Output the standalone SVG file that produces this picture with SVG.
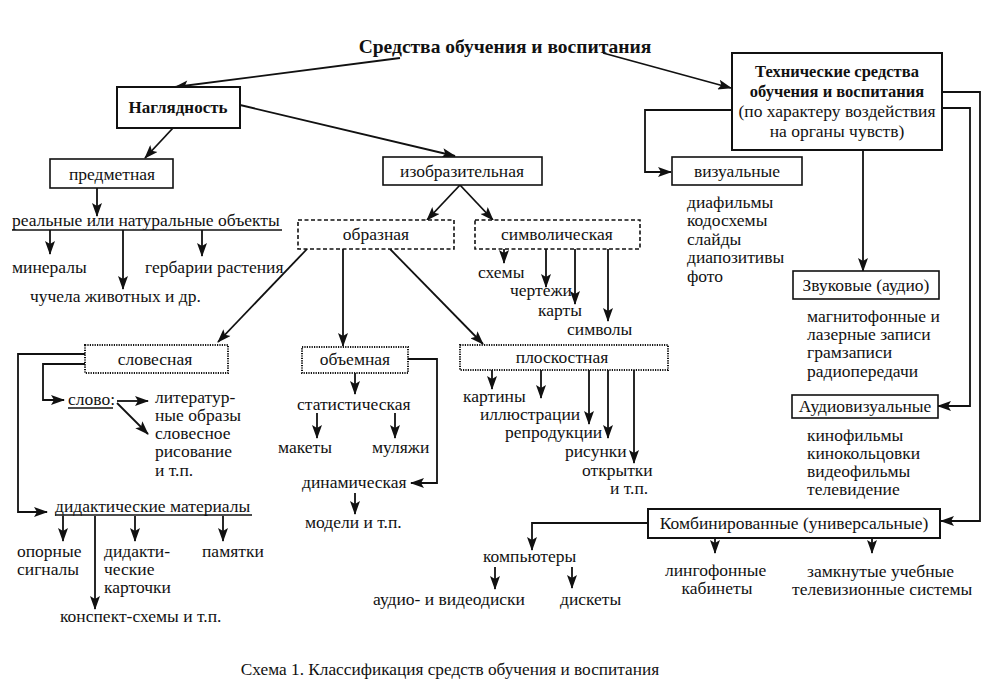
<svg xmlns="http://www.w3.org/2000/svg" width="1008" height="696" viewBox="0 0 1008 696">
<style>
text{font-family:"Liberation Serif","Times New Roman",serif;font-size:17.5px;fill:#111}
.c{text-anchor:middle}
.b{font-weight:bold}
.solid{fill:#fff;stroke:#111;stroke-width:2}
.dash{fill:#fff;stroke:#111;stroke-width:1.6;stroke-dasharray:4 2.5}
.dot{fill:#fff;stroke:#111;stroke-width:2;stroke-dasharray:1.2 1.2}
.ar{fill:none;stroke:#111;stroke-width:1.8;marker-end:url(#ah)}
.ul{stroke:#111;stroke-width:1.3}
</style>
<defs>
<marker id="ah" viewBox="0 0 14 10" refX="13" refY="5" markerWidth="15" markerHeight="10" markerUnits="userSpaceOnUse" orient="auto">
<path d="M0,0 L14,5 L0,10 L3,5 Z" fill="#111"/>
</marker>
</defs>
<rect width="1008" height="696" fill="#fff"/>

<g id="connectors">
<path class="ar" d="M400,58 L175,87"/>
<path class="ar" d="M603,53 L731,88"/>
<path class="ar" d="M173,128 L145,158"/>
<path class="ar" d="M240,105 L455,156"/>
<path class="ar" d="M97,188 L97,216"/>
<path class="ar" d="M50,230 L50,254"/>
<path class="ar" d="M123,230 L123,289"/>
<path class="ar" d="M202,230 L202,256"/>
<path class="ar" d="M460,185 L427,220"/>
<path class="ar" d="M460,185 L493,220"/>
<path class="ar" d="M504,249 L504,263"/>
<path class="ar" d="M546,249 L546,287"/>
<path class="ar" d="M575,249 L575,304"/>
<path class="ar" d="M608,249 L608,321"/>
<path class="ar" d="M307,249 L218,342"/>
<path class="ar" d="M343,249 L343,346"/>
<path class="ar" d="M390,249 L483,344"/>
<path class="ar" d="M85,354 L18,354 L18,512 L47,512"/>
<path class="ar" d="M85,364 L43,364 L43,400 L64,400"/>
<path class="ar" d="M117,401 L148,401"/>
<path class="ar" d="M117,403 L148,434"/>
<path class="ar" d="M63,516 L63,541"/>
<path class="ar" d="M95,516 L95,609"/>
<path class="ar" d="M135,516 L135,541"/>
<path class="ar" d="M223,516 L223,541"/>
<path class="ar" d="M355,373 L355,394"/>
<path class="ar" d="M317,413 L317,438"/>
<path class="ar" d="M395,413 L395,438"/>
<path class="ar" d="M408,359 L437,359 L437,483 L411,483"/>
<path class="ar" d="M355,493 L355,514"/>
<path class="ar" d="M492,370 L492,389"/>
<path class="ar" d="M541,370 L541,398"/>
<path class="ar" d="M589,370 L589,424"/>
<path class="ar" d="M608,370 L608,438"/>
<path class="ar" d="M634,370 L634,463"/>
<path class="ar" d="M732,110 L645,110 L645,172 L671,172"/>
<path class="ar" d="M863,150 L863,271"/>
<path class="ar" d="M942,108 L970,108 L970,406 L938,406"/>
<path class="ar" d="M942,92 L980,92 L980,521 L941,521"/>
<path class="ar" d="M648,523 L532,523 L532,550"/>
<path class="ar" d="M495,567 L495,589"/>
<path class="ar" d="M572,567 L572,588"/>
<path class="ar" d="M715,538 L715,553"/>
<path class="ar" d="M872,538 L872,553"/>
</g>

<g id="title"><text class="c b" x="505" y="53" style="font-size:19.5px">Средства обучения и воспитания</text></g>

<g id="n-naglyadnost"><rect class="solid" x="117" y="87" width="123" height="41"/><text class="c b" x="178" y="113" style="font-size:17px">Наглядность</text></g>
<g id="n-predmetnaya"><rect class="solid" x="50" y="159" width="123" height="29" style="stroke-width:1.6"/><text class="c" x="112" y="180">предметная</text></g>
<g id="n-real">
<text x="12" y="226">реальные или натуральные объекты</text><line class="ul" x1="12" y1="230" x2="282" y2="230"/>
<text x="12" y="273">минералы</text>
<text x="145" y="273">гербарии растения</text>
<text x="30" y="302">чучела животных и др.</text>
</g>
<g id="n-izobr"><rect class="solid" x="383" y="157" width="159" height="28" style="stroke-width:1.6"/><text class="c" x="462" y="177">изобразительная</text></g>
<g id="n-obraznaya"><rect class="dash" x="298" y="220" width="156" height="29"/><text class="c" x="376" y="240">образная</text></g>
<g id="n-simvol"><rect class="dash" x="475" y="220" width="165" height="29"/><text class="c" x="557" y="240">символическая</text>
<text x="478" y="278">схемы</text><text x="510" y="296">чертежи</text><text x="538" y="316">карты</text><text x="567" y="335">символы</text></g>

<g id="n-slovesnaya"><rect class="dot" x="85" y="345" width="143" height="28"/><text class="c" x="155" y="365">словесная</text>
<text x="68" y="405">слово:</text><line class="ul" x1="68" y1="408" x2="113" y2="408"/>
<text x="155" y="403">литератур-</text><text x="155" y="421">ные образы</text><text x="155" y="439">словесное</text><text x="155" y="457">рисование</text><text x="155" y="476">и т.п.</text>
</g>
<g id="n-didakt">
<text x="55" y="512">дидактические материалы</text><line class="ul" x1="55" y1="515" x2="252" y2="515"/>
<text x="17" y="557">опорные</text><text x="17" y="575">сигналы</text>
<text x="104" y="557">дидакти-</text><text x="104" y="575">ческие</text><text x="104" y="593">карточки</text>
<text x="202" y="557">памятки</text>
<text x="60" y="622">конспект-схемы и т.п.</text>
</g>
<g id="n-obemnaya"><rect class="dot" x="302" y="347" width="106" height="26"/><text class="c" x="355" y="365">объемная</text>
<text x="297" y="410">статистическая</text><text x="278" y="453">макеты</text><text x="372" y="453">муляжи</text>
<text x="302" y="488">динамическая</text><text x="305" y="528">модели и т.п.</text></g>
<g id="n-ploskostnaya"><rect class="dot" x="460" y="345" width="208" height="25"/><text class="c" x="562" y="363">плоскостная</text>
<text x="463" y="402">картины</text><text x="480" y="420">иллюстрации</text><text x="505" y="438">репродукции</text>
<text x="565" y="457">рисунки</text><text x="582" y="476">открытки</text><text x="610" y="494">и т.п.</text></g>

<g id="n-tekhn"><rect class="solid" x="732" y="53" width="210" height="97"/>
<text class="c b" x="837" y="77" style="font-size:16.5px">Технические средства</text><text class="c b" x="837" y="97" style="font-size:16.5px">обучения и воспитания</text>
<text class="c" x="837" y="117">(по характеру воздействия</text><text class="c" x="837" y="137">на органы чувств)</text></g>
<g id="n-vizual"><rect class="solid" x="672" y="157" width="130" height="28" style="stroke-width:1.6"/><text class="c" x="737" y="177">визуальные</text>
<text x="687" y="208">диафильмы</text><text x="687" y="226">кодосхемы</text><text x="687" y="245">слайды</text><text x="687" y="263">диапозитивы</text><text x="687" y="282">фото</text></g>
<g id="n-zvuk"><rect class="solid" x="793" y="271" width="146" height="28" style="stroke-width:1.6"/><text class="c" x="866" y="291">Звуковые (аудио)</text>
<text x="807" y="322">магнитофонные и</text><text x="807" y="340">лазерные записи</text><text x="807" y="358">грамзаписи</text><text x="807" y="377">радиопередачи</text></g>
<g id="n-audiovis"><rect class="solid" x="792" y="395" width="146" height="23" style="stroke-width:1.6"/><text class="c" x="865" y="412">Аудиовизуальные</text>
<text x="807" y="441">кинофильмы</text><text x="807" y="459">кинокольцовки</text><text x="807" y="477">видеофильмы</text><text x="807" y="495">телевидение</text></g>
<g id="n-komb"><rect class="solid" x="648" y="509" width="292" height="29"/><text class="c" x="794" y="529">Комбинированные (универсальные)</text>
<text x="483" y="562">компьютеры</text><text x="373" y="605">аудио- и видеодиски</text><text x="560" y="605">дискеты</text>
<text x="665" y="576">лингофонные</text><text class="c" x="717" y="594">кабинеты</text>
<text x="807" y="577">замкнутые учебные</text><text x="792" y="595">телевизионные системы</text></g>

<g id="caption"><text class="c" x="450" y="675" style="font-size:17.3px">Схема 1. Классификация средств обучения и воспитания</text></g>
</svg>
